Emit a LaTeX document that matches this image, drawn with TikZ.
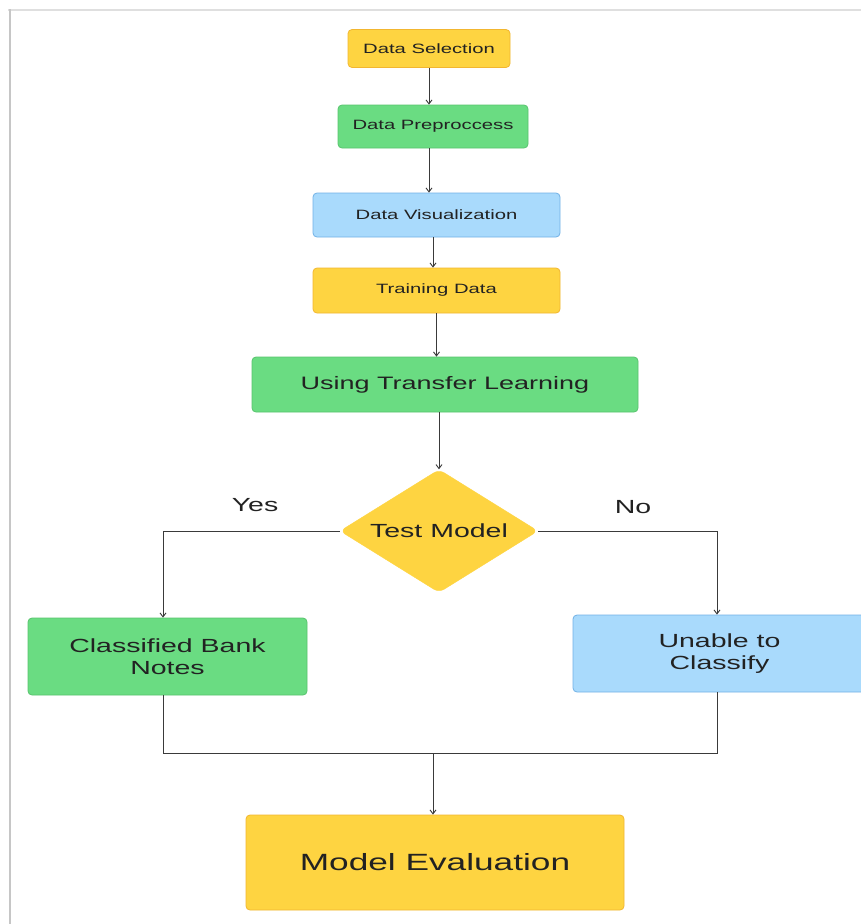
\documentclass[tikz,border=0pt]{standalone}
\usepackage{fontspec}
\newfontfamily\wf[FakeStretch=1.5]{Liberation Sans}
\usetikzlibrary{shapes.geometric,arrows.meta}
\definecolor{yel}{HTML}{FED441}
\definecolor{yelb}{HTML}{F2B630}
\definecolor{grn}{HTML}{6ADC82}
\definecolor{grnb}{HTML}{58C46E}
\definecolor{blu}{HTML}{A9DAFC}
\definecolor{blub}{HTML}{72B2E6}
\definecolor{txt}{HTML}{222222}
\definecolor{lnc}{HTML}{3A3A3A}
\begin{document}
\begin{tikzpicture}[x=1pt,y=-1pt,
  box/.style={rectangle, rounded corners=4pt, inner sep=0pt, text=txt, align=center, line width=0.8pt},
  ybox/.style={box, fill=yel, draw=yelb},
  gbox/.style={box, fill=grn, draw=grnb},
  bbox/.style={box, fill=blu, draw=blub},
  fs/.style={font=\wf\fontsize{13.5}{16}\selectfont},
  fm/.style={font=\wf\fontsize{18}{21}\selectfont},
  fl/.style={font=\wf\fontsize{19}{22}\selectfont},
  fxl/.style={font=\wf\fontsize{23.5}{27}\selectfont},
  lbl/.style={text=txt, inner sep=0pt},
  arr/.style={draw=lnc, line width=0.9pt, -{Straight Barb[length=4pt,width=6pt]}},
  conn/.style={draw=lnc, line width=0.9pt}
]
\useasboundingbox (0,0) rectangle (861,924);
\fill[white] (0,0) rectangle (861,924);
% frame
\draw[gray!25, line width=1.4pt] (8,10) -- (861,10);
\draw[gray!45, line width=2pt] (9.5,9) -- (9.5,924);

% nodes
\node[ybox, fs, minimum width=162pt, minimum height=38pt] (ds) at (429,48.5) {Data Selection};
\node[gbox, fs, minimum width=190pt, minimum height=43pt] (dp) at (433,126.5) {Data Preproccess};
\node[bbox, fs, minimum width=247pt, minimum height=44pt] (dv) at (436.5,215) {Data Visualization};
\node[ybox, fs, minimum width=247pt, minimum height=45pt] (td) at (436.5,290.5) {Training Data};
\node[gbox, fm, minimum width=386pt, minimum height=55pt] (utl) at (445,384.5) {Using Transfer Learning};
\node[diamond, aspect=1.61, fill=yel, draw=yel, rounded corners=6pt, inner sep=0pt, minimum width=198pt, minimum height=123pt, text=txt, fl] (dm) at (439,531) {Test Model};
\node[gbox, fl, minimum width=279pt, minimum height=77pt] (cb) at (167.5,656.5) {Classified Bank\\Notes};
\node[bbox, fl, minimum width=293pt, minimum height=77pt] (uc) at (719.5,653.5) {Unable to\\Classify};
\node[ybox, fxl, minimum width=378pt, minimum height=95pt] (me) at (435,862.5) {Model Evaluation};

% labels
\node[lbl, fl] (yes) at (255,505) {Yes};
\node[lbl, fl] (no) at (633,507) {No};

% coordinates
\coordinate (yl) at (163,531);
\coordinate (yr) at (717,531);
\coordinate (m) at (433,753);

% connectors
\draw[arr] (ds.south) -- (ds.south |- dp.north);
\draw[arr] (ds.south |- dp.south) -- (ds.south |- dv.north);
\draw[arr] (dp.south |- dv.south) -- (dp.south |- td.north);
\draw[arr] (td.south) -- (td.south |- utl.north);
\draw[arr] (dm.north |- utl.south) -- (dm.north);
\draw[conn] (dm.west) -- (yl);
\draw[arr] (yl) -- (yl |- cb.north);
\draw[conn] (dm.east) -- (yr);
\draw[arr] (yr) -- (yr |- uc.north);
\draw[conn] (yl |- cb.south) |- (m) -| (yr |- uc.south);
\draw[arr] (m) -- (m |- me.north);
\end{tikzpicture}
\end{document}
